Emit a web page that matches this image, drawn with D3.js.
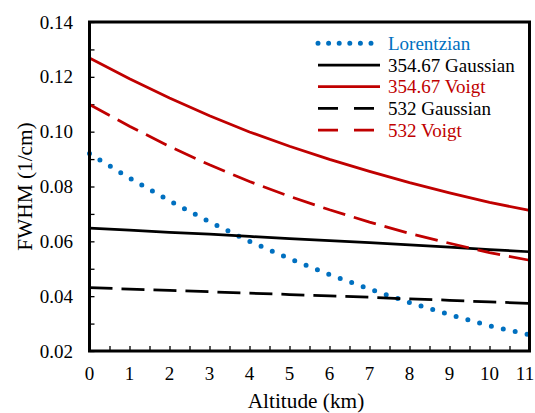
<!DOCTYPE html>
<html>
  <head>
    <meta charset="UTF-8" />
    <style>
      body { margin: 0; background: #fff; }
    </style>
  </head>
  <body>
    <svg></svg>
    <script src="https://d3js.org/d3.v7.min.js"></script>
    <script>
      let width = 535,
        height = 413;

      // values, one per km of altitude
      const altitude = [0, 1, 2, 3, 4, 5, 6, 7, 8, 9, 10, 11];
      const lorentzian = [0.092, 0.0831, 0.0748, 0.0671, 0.06, 0.0537, 0.0479, 0.0426, 0.0377, 0.0333, 0.0292, 0.0259];
      const gauss354 = [0.0648, 0.0641, 0.0633, 0.0626, 0.0618, 0.061, 0.0603, 0.0595, 0.0587, 0.0579, 0.057, 0.0562];
      const voigt354 = [0.1269, 0.1193, 0.1123, 0.1058, 0.0999, 0.0947, 0.0899, 0.0855, 0.0814, 0.0777, 0.0742, 0.0713];
      const gauss532 = [0.0431, 0.0426, 0.0421, 0.0416, 0.0411, 0.0406, 0.0401, 0.0396, 0.039, 0.0385, 0.0379, 0.0374];
      const voigt532 = [0.1099, 0.102, 0.0946, 0.0879, 0.0818, 0.0764, 0.0715, 0.067, 0.0629, 0.0593, 0.0559, 0.0531];

      const xTicks = [0, 1, 2, 3, 4, 5, 6, 7, 8, 9, 10, 11];
      const yTicks = [0.02, 0.04, 0.06, 0.08, 0.1, 0.12, 0.14];

      const series = [
        { name: "Lorentzian", values: lorentzian, color: "#0070C0", dash: "0,12.2", w: 5, cap: "round", legendLen: 62 },
        { name: "354.67 Gaussian", values: gauss354, color: "#000000", dash: null, w: 2.75, cap: "butt", legendLen: 62 },
        { name: "354.67 Voigt", values: voigt354, color: "#C00000", dash: null, w: 2.75, cap: "butt", legendLen: 62 },
        { name: "532 Gaussian", values: gauss532, color: "#000000", dash: "23,9", w: 2.75, cap: "butt", legendLen: 58 },
        { name: "532 Voigt", values: voigt532, color: "#C00000", dash: "23,9", w: 2.75, cap: "butt", legendLen: 58 },
      ];

      const serif = "Liberation Serif";

      let svg = d3.select("svg").attr("width", width).attr("height", height)
        .style("font-family", serif);

      let pLeft = 89.5, pRight = 529.5, pTop = 22, pBottom = 351;

      let x = d3.scaleLinear().domain([0, 11]).range([pLeft, pRight]);
      let y = d3.scaleLinear().domain([0.02, 0.14]).range([pBottom, pTop]);

      // tick marks point inwards, major and minor the same length
      let xAxis = d3.axisBottom(x).tickValues(d3.range(0, 11.01, 0.5)).tickSize(-5).tickFormat("");
      let yAxis = d3.axisLeft(y).tickValues(d3.range(0.02, 0.1401, 0.01)).tickSize(-5).tickFormat("");

      svg.append("g").attr("transform", `translate(0,${pBottom})`).call(xAxis)
        .call((g) => g.select(".domain").remove())
        .selectAll("line").attr("stroke", "#000").attr("stroke-width", 1.3);
      svg.append("g").attr("transform", `translate(${pLeft},0)`).call(yAxis)
        .call((g) => g.select(".domain").remove())
        .selectAll("line").attr("stroke", "#000").attr("stroke-width", 1.3);

      // tick labels (last one kept inside the page)
      svg.append("g").selectAll("text").data(xTicks).join("text")
        .attr("x", (d) => Math.min(x(d), width - 10)).attr("y", 380)
        .attr("text-anchor", "middle")
        .style("font-family", serif).style("font-size", "19px")
        .text((d) => d);
      svg.append("g").selectAll("text").data(yTicks).join("text")
        .attr("x", 73).attr("y", (d) => y(d) + 6.5)
        .attr("text-anchor", "end")
        .style("font-family", serif).style("font-size", "19px")
        .text((d) => d3.format(".2f")(d));

      let line = d3.line().x((d, i) => x(altitude[i])).y((d) => y(d));

      svg.append("g").selectAll("path").data(series).join("path")
        .attr("d", (d) => line(d.values))
        .attr("fill", "none")
        .attr("stroke", (d) => d.color)
        .attr("stroke-width", (d) => d.w)
        .attr("stroke-linecap", (d) => d.cap)
        .attr("stroke-dasharray", (d) => d.dash);

      // plot frame
      svg.append("rect")
        .attr("x", pLeft).attr("y", pTop)
        .attr("width", pRight - pLeft).attr("height", pBottom - pTop)
        .attr("fill", "none").attr("stroke", "#000").attr("stroke-width", 3);

      // legend
      let legend = svg.append("g").selectAll("g").data(series).join("g")
        .attr("transform", (d, i) => `translate(318,${43.3 + i * 21.7})`);
      legend.append("line")
        .attr("x1", 0).attr("x2", (d) => d.legendLen)
        .attr("stroke", (d) => d.color)
        .attr("stroke-width", (d) => d.w)
        .attr("stroke-linecap", (d) => d.cap)
        .attr("stroke-dasharray", (d) => d.dash ? (d.cap === "round" ? "0,10.6" : "20,16") : null);
      legend.append("text")
        .attr("x", 70).attr("y", 6.5)
        .style("font-family", serif).style("font-size", "19px")
        .attr("fill", (d) => d.color)
        .text((d) => d.name);

      // axis titles
      svg.append("text")
        .attr("transform", `translate(31.5,${(pTop + pBottom) / 2}) rotate(-90)`)
        .attr("text-anchor", "middle")
        .style("font-family", serif).style("font-size", "21.3px")
        .text("FWHM (1/cm)");
      svg.append("text")
        .attr("x", 306).attr("y", 408)
        .attr("text-anchor", "middle")
        .style("font-family", serif).style("font-size", "21.3px")
        .text("Altitude (km)");
    </script>
  </body>
</html>
